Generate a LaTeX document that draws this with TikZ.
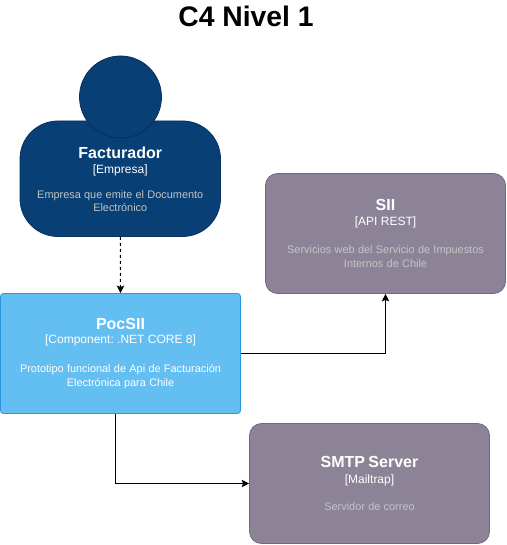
\documentclass[tikz,border=0pt]{standalone}
\usepackage{fontspec}
\setmainfont{Liberation Sans}
\usetikzlibrary{arrows.meta}
\frenchspacing
\definecolor{navyfill}{HTML}{083F75}
\definecolor{navyline}{HTML}{06315C}
\definecolor{bluefill}{HTML}{63BEF2}
\definecolor{blueline}{HTML}{2E96E0}
\definecolor{greyfill}{HTML}{8C8496}
\definecolor{greyline}{HTML}{736782}
\definecolor{desctext}{HTML}{C4C4C4}
\newcommand{\boxtitle}[1]{{\fontsize{16}{18}\selectfont\bfseries #1}}
\newcommand{\boxtype}[1]{{\fontsize{12}{14}\selectfont #1}}
\newcommand{\boxdesc}[1]{{\fontsize{10.9}{14}\selectfont #1}}
\tikzset{
  x=1pt,y=-1pt,
  c4box/.style={rectangle,draw,line width=0.8pt,minimum width=240pt,minimum height=120pt,
    inner sep=0pt,align=center,text=white,text width=220pt},
  extbox/.style={c4box,fill=greyfill,draw=greyline,rounded corners=12pt},
  link/.style={draw=black,line width=1pt,-{Stealth[length=7.5pt,width=7.5pt,inset=1.5pt]}}
}
\begin{document}
\begin{tikzpicture}
\useasboundingbox (0,0) rectangle (506,545);
\node[font=\bfseries\fontsize{28.3}{32}\selectfont,text=black,inner sep=0pt] (title) at (246,16) {C4 Nivel 1};
\node[c4box,fill=navyfill,draw=navyline,minimum width=200.5pt,minimum height=115.5pt,rounded corners=38pt,text width=190pt] (body) at (120.25,178.75)
  {\rule{0pt}{13pt}\boxtitle{Facturador}\\[3.3pt]\boxtype{[Empresa]}\\[11pt]{\color{desctext}\boxdesc{Empresa que emite el Documento\\[1pt]Electrónico}}};
\node[circle,fill=navyfill,draw=navyline,line width=0.8pt,minimum size=82pt,inner sep=0pt] (head) at (120.5,97) {};
\node[c4box,fill=bluefill,draw=blueline,rounded corners=3pt] (pocsii) at (120.5,353.5)
  {\boxtitle{PocSII}\\[2.5pt]\boxtype{[Component: .NET CORE 8]}\\[14.5pt]\boxdesc{Prototipo funcional de Api de Facturación\\[2pt]Electrónica para Chile}};
\node[extbox] (sii) at (385.5,233.5)
  {\boxtitle{SII}\\[2.5pt]\boxtype{[API REST]}\\[14.5pt]{\color{desctext}\boxdesc{Servicios web del Servicio de Impuestos\\[2pt]Internos de Chile}}};
\node[extbox] (smtp) at (369.5,483.5)
  {\boxtitle{SMTP Server}\\[4pt]\boxtype{[Mailtrap]}\\[15pt]{\color{desctext}\boxdesc{Servidor de correo}}};
\draw[link,dash pattern=on 3pt off 3pt] (body.south) -- (pocsii.north);
\draw[link] (pocsii.east) -| (sii.south);
\draw[link] ([xshift=-5pt]pocsii.south) |- (smtp.west);
\end{tikzpicture}
\end{document}
